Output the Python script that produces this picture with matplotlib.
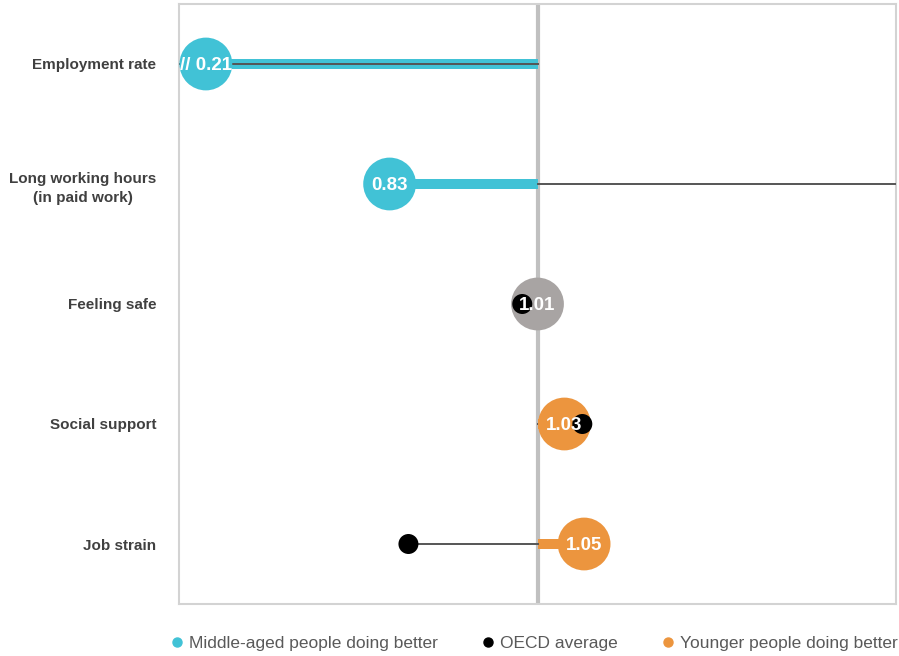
import matplotlib
matplotlib.use("Agg")
from matplotlib import pyplot as plt
from matplotlib.lines import Line2D

plt.rcParams['font.family'] = ['Liberation Sans', 'DejaVu Sans']

categories = ['Employment rate', 'Long working hours\n(in paid work)', 'Feeling safe',
              'Social support', 'Job strain']
values = [0.21, 0.83, 1.01, 1.03, 1.05]
value_labels = ['// 0.21', '0.83', '1.01', '1.03', '1.05']
# where the bubble sits (employment rate is cut off at the axis break)
bubble_pos = [0.63, 0.835, 1.0, 1.03, 1.052]
group = ['middle', 'middle', 'neutral', 'younger', 'younger']
# OECD average (values outside 0.6-1.4 run to the edge)
oecd = [0.5, 1.6, 0.983, 1.05, 0.856]

colors = {'middle': '#41C2D6', 'younger': '#EC953E', 'neutral': '#A8A4A3'}
xmin, xmax = 0.6, 1.4

fig = plt.figure(figsize=(8.99, 6.56), dpi=100)
ax = fig.add_axes([179 / 899, 52 / 656, 717 / 899, 600 / 656])

ys = list(range(len(categories)))

ax.axvline(1.0, color='#C0C0C0', lw=3, zorder=1)

for y, b, g in zip(ys, bubble_pos, group):
    if g != 'neutral':
        ax.plot([1.0, b], [y, y], color=colors[g], lw=7.2, solid_capstyle='butt', zorder=2)

for y, o in zip(ys, oecd):
    ax.plot([1.0, max(min(o, xmax), xmin)], [y, y], color='#555555', lw=1.4, zorder=3)

for y, b, g in zip(ys, bubble_pos, group):
    ax.scatter([b], [y], s=38 ** 2, color=colors[g], edgecolors='none', zorder=4)

for y, o in zip(ys, oecd):
    if xmin < o < xmax:
        ax.scatter([o], [y], s=14.4 ** 2, color='black', edgecolors='none', zorder=5)

for y, b, lab in zip(ys, bubble_pos, value_labels):
    ax.text(b, y, lab, color='white', fontsize=13.5, fontweight='bold',
            ha='center', va='center_baseline', zorder=6)

ax.set_xlim(xmin, xmax)
ax.set_ylim(4.5, -0.5)
ax.set_xticks([])
ax.set_yticks(ys)
ax.set_yticklabels(categories, fontsize=11, fontweight='bold', color='#404040',
                   multialignment='center', linespacing=1.5)
ax.tick_params(axis='y', length=0, pad=16.5)
for s in ax.spines.values():
    s.set_color('#D3D3D3')
    s.set_linewidth(1.5)

handles = [Line2D([], [], marker='o', ls='none', color=colors['middle'], markersize=6.5),
           Line2D([], [], marker='o', ls='none', color='black', markersize=6.5),
           Line2D([], [], marker='o', ls='none', color=colors['younger'], markersize=6.5)]
fig.legend(handles, ['Middle-aged people doing better', 'OECD average', 'Younger people doing better'],
           loc='center', bbox_to_anchor=(533 / 899, 13 / 656), ncol=3, frameon=False,
           fontsize=12.5, labelcolor='#595959', handletextpad=0.2, columnspacing=2.4,
           handlelength=1.0, borderpad=0, borderaxespad=0)

fig.savefig('out.png', dpi=100)
